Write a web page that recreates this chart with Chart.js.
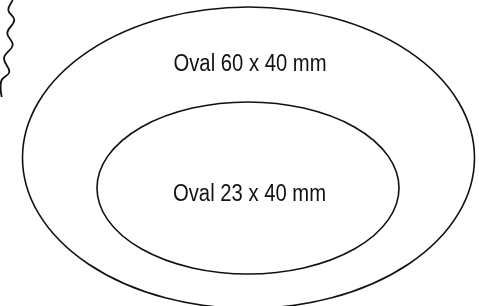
<!DOCTYPE html>
<html>
<head>
<meta charset="utf-8">
<script src="https://cdn.jsdelivr.net/npm/chart.js@4/dist/chart.umd.min.js"></script>
<style>
  html, body { margin: 0; padding: 0; background: #fff; }
  #wrap { width: 479px; height: 306px; }
</style>
</head>
<body>
<div id="wrap"><canvas id="chartOval" width="479" height="306"></canvas></div>
<script>
// ovals (plane units, y grows downward)
const ovalLabels = ['Oval 60 x 40 mm', 'Oval 23 x 40 mm'];
const ovalCenterX = [248.5, 248];
const ovalCenterY = [157.7, 188];
const ovalRadiusX = [226, 151];
const ovalRadiusY = [150.7, 86];
const labelY = [63.5, 193.5];

// wavy edge on the left
const waveX = [12.7, 8.3, 14.3, 7.3, 12.7, 4, 9.3, 1.7, 0.7, 1.7];
const waveY = [0, 10, 20, 33, 45, 58, 72, 80, 90, 97];

const ovalPlugin = {
  id: 'ovals',
  afterDatasetsDraw(chart) {
    const ctx = chart.ctx;
    const sx = chart.scales.x;
    const sy = chart.scales.y;
    ctx.save();
    ctx.strokeStyle = '#111';
    ctx.lineWidth = 1.6;
    for (let i = 0; i < ovalLabels.length; i++) {
      const cx = sx.getPixelForValue(ovalCenterX[i]);
      const cy = sy.getPixelForValue(ovalCenterY[i]);
      const rx = Math.abs(sx.getPixelForValue(ovalCenterX[i] + ovalRadiusX[i]) - cx);
      const ry = Math.abs(sy.getPixelForValue(ovalCenterY[i] + ovalRadiusY[i]) - cy);
      ctx.beginPath();
      ctx.ellipse(cx, cy, rx, ry, 0, 0, Math.PI * 2);
      ctx.stroke();
    }
    // condensed look: squeeze a regular sans horizontally
    ctx.fillStyle = '#111';
    ctx.font = '23px "Liberation Sans", Arial, sans-serif';
    ctx.textAlign = 'center';
    ctx.textBaseline = 'middle';
    for (let i = 0; i < ovalLabels.length; i++) {
      const w = ctx.measureText(ovalLabels[i]).width;
      const k = 153 / w;
      ctx.save();
      ctx.translate(sx.getPixelForValue(ovalCenterX[i]) + 1.5, sy.getPixelForValue(labelY[i]) + 1);
      ctx.scale(k, 1);
      ctx.fillText(ovalLabels[i], 0, 0);
      ctx.restore();
    }
    ctx.restore();
  }
};

const dataWave = {
  datasets: [
    {
      label: 'edge',
      data: waveX.map((x, i) => ({ x: x, y: waveY[i] })),
      borderColor: '#111',
      borderWidth: 1.8,
      pointRadius: 0,
      tension: 0.4,
      fill: false,
    },
  ],
};

const configOval = {
  type: 'scatter',
  data: dataWave,
  options: {
    responsive: false,
    animation: false,
    showLine: true,
    layout: { padding: 0 },
    plugins: { legend: { display: false }, tooltip: { enabled: false } },
    scales: {
      x: { type: 'linear', min: 0, max: 479, display: false },
      y: { type: 'linear', min: 0, max: 306, reverse: true, display: false },
    },
  },
  plugins: [ovalPlugin],
};
const chartOval = new Chart(document.getElementById('chartOval'), configOval);
</script>
</body>
</html>
